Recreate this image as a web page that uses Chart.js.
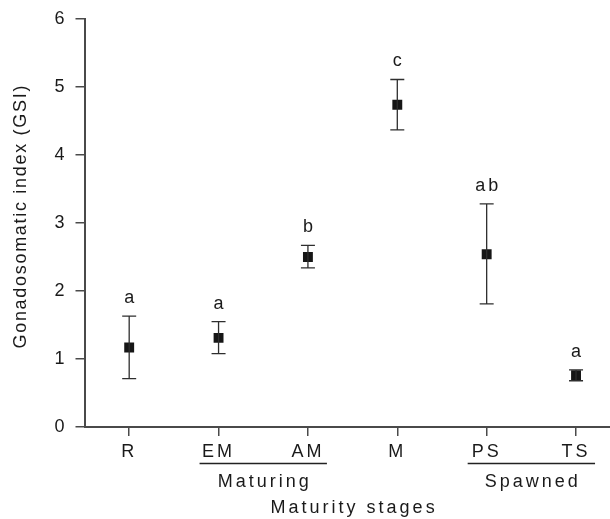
<!DOCTYPE html>
<html>
<head>
<meta charset="utf-8">
<script src="https://cdn.jsdelivr.net/npm/chart.js@4/dist/chart.umd.min.js"></script>
<style>
  html, body { margin: 0; padding: 0; background: #fff; overflow: hidden; }
  #wrap { width: 610px; height: 519px; }
</style>
</head>
<body>
<div id="wrap"><canvas id="gsiChart"></canvas></div>
<script>
// maturity stages and GSI (mean with error range)
var stages = ['R', 'EM', 'AM', 'M', 'PS', 'TS'];
var gsiMean = [1.17, 1.31, 2.50, 4.74, 2.54, 0.76];
var gsiUpper = [1.63, 1.55, 2.67, 5.11, 3.28, 0.84];
var gsiLower = [0.71, 1.08, 2.34, 4.37, 1.81, 0.68];
var sigLetters = ['a', 'a', 'b', 'c', 'ab', 'a'];
var yTicks = [0, 1, 2, 3, 4, 5, 6];
// stage groups (first and last stage of each group)
var groupNames = ['Maturing', 'Spawned'];
var groupFirst = ['EM', 'PS'];
var groupLast = ['AM', 'TS'];
var xTitle = 'Maturity stages';
var yTitle = 'Gonadosomatic index (GSI)';

var FONT = 'Liberation Sans, Arial, Helvetica, sans-serif';
var AXIS = '#4a4a4a';
var TEXT = '#1a1a1a';

var points = stages.map(function (s, i) {
  return { x: i + 1, y: gsiMean[i] };
});

// the original lettering is widely tracked
var tracking = {
  id: 'tracking',
  beforeDraw: function (chart) {
    chart.ctx.letterSpacing = '3px';
  }
};

var errorBars = {
  id: 'errorBars',
  afterDatasetsDraw: function (chart) {
    var ctx = chart.ctx;
    var xs = chart.scales.x, ys = chart.scales.y;
    ctx.save();
    ctx.strokeStyle = '#2e2e2e';
    ctx.lineWidth = 1.3;
    ctx.fillStyle = TEXT;
    ctx.font = '18px ' + FONT;
    ctx.textAlign = 'center';
    ctx.textBaseline = 'middle';
    stages.forEach(function (s, i) {
      var px = xs.getPixelForValue(i + 1);
      var top = ys.getPixelForValue(gsiUpper[i]);
      var bot = ys.getPixelForValue(gsiLower[i]);
      ctx.beginPath();
      ctx.moveTo(px, top); ctx.lineTo(px, bot);
      ctx.moveTo(px - 7, top); ctx.lineTo(px + 7, top);
      ctx.moveTo(px - 7, bot); ctx.lineTo(px + 7, bot);
      ctx.stroke();
      ctx.fillText(sigLetters[i], px + 1.5, top - 18);
    });
    ctx.restore();
  }
};

var axisLabels = {
  id: 'axisLabels',
  afterDraw: function (chart) {
    var ctx = chart.ctx;
    var xs = chart.scales.x, ys = chart.scales.y;
    var lineY = xs.top + 36.5;
    ctx.save();
    ctx.strokeStyle = '#222';
    ctx.lineWidth = 1.5;
    ctx.fillStyle = TEXT;
    ctx.font = '18px ' + FONT;
    ctx.textAlign = 'center';
    ctx.textBaseline = 'middle';
    // group underlines and names
    groupNames.forEach(function (name, g) {
      var a = xs.getPixelForValue(stages.indexOf(groupFirst[g]) + 1);
      var b = xs.getPixelForValue(stages.indexOf(groupLast[g]) + 1);
      ctx.beginPath();
      ctx.moveTo(a - 19, lineY); ctx.lineTo(b + 19, lineY);
      ctx.stroke();
      ctx.fillText(name, (a + b) / 2 + 1.5, xs.top + 55);
    });
    // x title, centred on the stages
    ctx.fillText(xTitle, xs.getPixelForValue((1 + stages.length) / 2) + 1.5, xs.top + 81);
    // y title
    ctx.letterSpacing = '1.7px';
    ctx.translate(21, (ys.top + ys.bottom) / 2 - 6);
    ctx.rotate(-Math.PI / 2);
    ctx.fillText(yTitle, 0.8, 0);
    ctx.restore();
  }
};

new Chart(document.getElementById('gsiChart'), {
  type: 'scatter',
  data: {
    datasets: [{
      data: points,
      pointStyle: 'rect',
      pointRadius: 7,
      pointHoverRadius: 7,
      backgroundColor: '#161616',
      borderColor: '#161616',
      borderWidth: 0
    }]
  },
  options: {
    responsive: true,
    maintainAspectRatio: false,
    animation: false,
    layout: { autoPadding: false, padding: { top: 19, right: 0, bottom: 0, left: 0 } },
    plugins: { legend: { display: false }, tooltip: { enabled: false } },
    scales: {
      x: {
        type: 'linear',
        min: 0.5,
        max: 6.38,
        afterBuildTicks: function (axis) {
          axis.ticks = stages.map(function (s, i) { return { value: i + 1 }; });
        },
        afterFit: function (axis) {
          axis.height = 92;
          axis.paddingLeft = 0;
          axis.paddingRight = 0;
        },
        grid: { drawOnChartArea: false, drawTicks: true, tickLength: 9, color: AXIS, lineWidth: 1.5 },
        border: { color: AXIS, width: 2 },
        ticks: {
          color: TEXT,
          padding: 5,
          maxRotation: 0,
          font: { family: FONT, size: 18 },
          callback: function (v) { return stages[v - 1]; }
        }
      },
      y: {
        min: 0,
        max: 6,
        afterBuildTicks: function (axis) {
          axis.ticks = yTicks.map(function (v) { return { value: v }; });
        },
        afterFit: function (axis) { axis.width = 84.5; },
        grid: { drawOnChartArea: false, drawTicks: true, tickLength: 9, color: AXIS, lineWidth: 1.5 },
        border: { color: AXIS, width: 2 },
        ticks: {
          color: TEXT,
          padding: 8,
          font: { family: FONT, size: 18 }
        }
      }
    }
  },
  plugins: [tracking, errorBars, axisLabels]
});
</script>
</body>
</html>
